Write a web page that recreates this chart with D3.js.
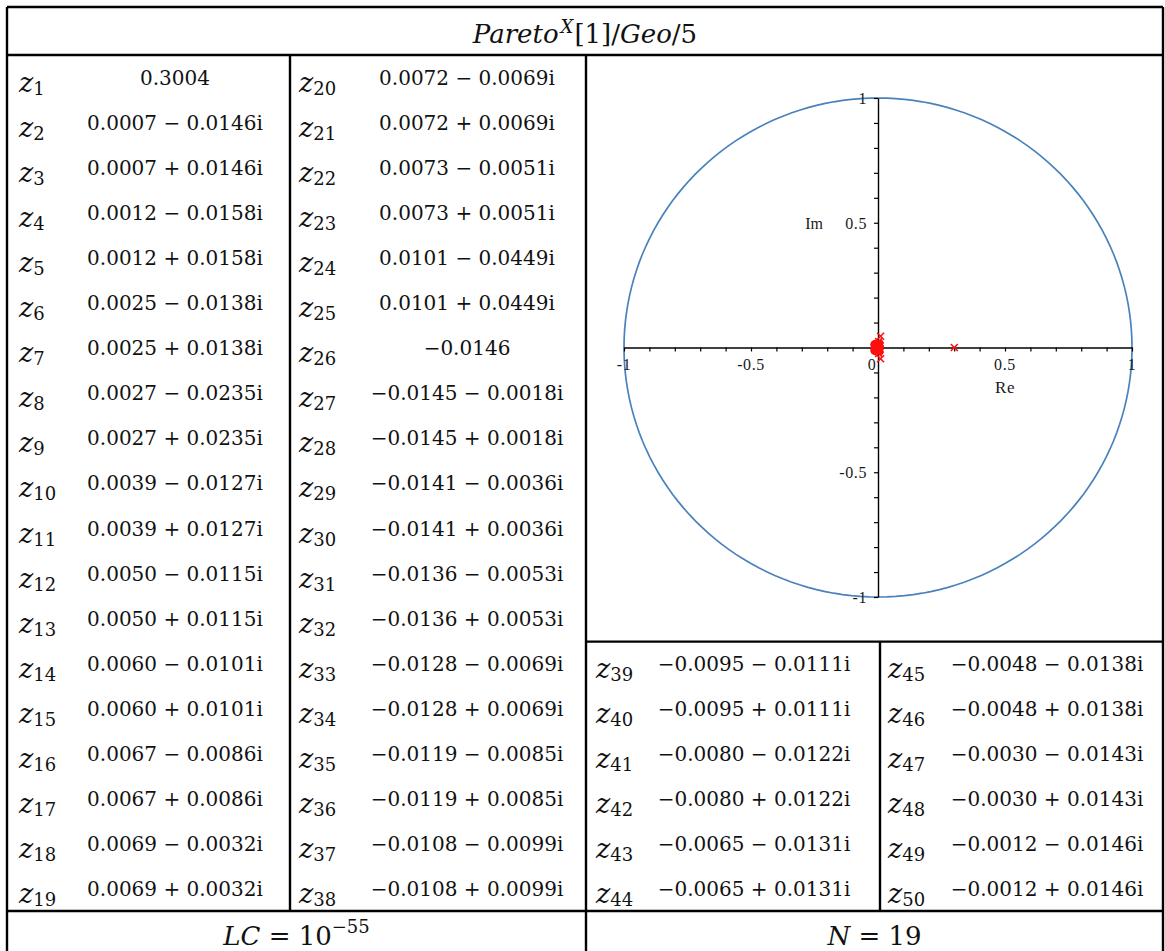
<!DOCTYPE html>
<html>
<head>
<meta charset="utf-8">
<script src="https://cdn.jsdelivr.net/npm/d3@7"></script>
<style>
  html, body { margin: 0; padding: 0; background: #fff; }
  svg { display: block; }
  .math { font-family: "DejaVu Serif", "Liberation Serif", serif; fill: #111; }
  .plotlbl { font-family: "Liberation Serif", "Times New Roman", serif; fill: #1a1a1a; }
</style>
</head>
<body>
<svg id="chart" width="1165" height="951"></svg>
<script>
// Zeros z1..z50 of the characteristic polynomial: real and imaginary parts
const zeroRe = [
  0.3004, 0.0007, 0.0007, 0.0012, 0.0012, 0.0025, 0.0025, 0.0027, 0.0027, 0.0039,
  0.0039, 0.0050, 0.0050, 0.0060, 0.0060, 0.0067, 0.0067, 0.0069, 0.0069, 0.0072,
  0.0072, 0.0073, 0.0073, 0.0101, 0.0101, -0.0146, -0.0145, -0.0145, -0.0141, -0.0141,
  -0.0136, -0.0136, -0.0128, -0.0128, -0.0119, -0.0119, -0.0108, -0.0108, -0.0095, -0.0095,
  -0.0080, -0.0080, -0.0065, -0.0065, -0.0048, -0.0048, -0.0030, -0.0030, -0.0012, -0.0012
];
const zeroIm = [
  0, -0.0146, 0.0146, -0.0158, 0.0158, -0.0138, 0.0138, -0.0235, 0.0235, -0.0127,
  0.0127, -0.0115, 0.0115, -0.0101, 0.0101, -0.0086, 0.0086, -0.0032, 0.0032, -0.0069,
  0.0069, -0.0051, 0.0051, -0.0449, 0.0449, 0, -0.0018, 0.0018, -0.0036, 0.0036,
  -0.0053, 0.0053, -0.0069, 0.0069, -0.0085, 0.0085, -0.0099, 0.0099, -0.0111, 0.0111,
  -0.0122, 0.0122, -0.0131, 0.0131, -0.0138, 0.0138, -0.0143, 0.0143, -0.0146, 0.0146
];
// Axis tick values and the labelled ones
const axisTicks = d3.range(-10, 11).map(d => d / 10);
const xTickLabels = { "-1": "-1", "-0.5": "-0.5", "0": "0", "0.5": "0.5", "1": "1" };
const yTickLabels = { "-1": "-1", "-0.5": "-0.5", "0.5": "0.5", "1": "1" };
// Footer values
const lcExponent = "−55";
const nValue = "19";

const svg = d3.select("#chart");

// ---- table geometry ----
const L = 7, R = 1163, T = 7;
const headBottom = 55;
const rowH = 45.05;
const nRows = 19;
const gridBottom = headBottom + nRows * rowH;
const colA = 290, colB = 586, colC = 880;
const plotBottom = headBottom + 13 * rowH + 1;

const fmt = v => (v < 0 ? "−" : "") + Math.abs(v).toFixed(4);
const zText = (re, im) => im === 0 ? fmt(re)
  : `${fmt(re)} ${im < 0 ? "−" : "+"} ${Math.abs(im).toFixed(4)}i`;

const zeros = zeroRe.map((re, i) => ({ k: i + 1, re, im: zeroIm[i] }));

// ---- grid lines ----
const lines = [
  [L, T, R, T], [L, T, L, 951], [R, T, R, 951],
  [L, headBottom, R, headBottom],
  [L, gridBottom, R, gridBottom],
  [colA, headBottom, colA, gridBottom],
  [colB, headBottom, colB, 951],
  [colB, plotBottom, R, plotBottom],
  [colC, plotBottom, colC, gridBottom]
];
svg.append("g").selectAll("line").data(lines).join("line")
  .attr("x1", d => d[0]).attr("y1", d => d[1])
  .attr("x2", d => d[2]).attr("y2", d => d[3])
  .attr("stroke", "#000").attr("stroke-width", 2.4);

// ---- title ----
const title = svg.append("text").attr("class", "math")
  .attr("x", (L + R) / 2).attr("y", 43).attr("text-anchor", "middle")
  .attr("font-size", 26);
title.append("tspan").attr("font-style", "italic").text("Pareto");
title.append("tspan").attr("font-style", "italic").attr("font-size", 18)
  .attr("dx", 2).attr("dy", -10).text("X");
title.append("tspan").attr("dx", 1).attr("dy", 10).text("[1]/");
title.append("tspan").attr("font-style", "italic").text("Geo");
title.append("tspan").text("/5");

// ---- zero table cells ----
const groups = [
  { from: 1, to: 19, row0: 0, lx: 19, cx: 175 },
  { from: 20, to: 38, row0: 0, lx: 299, cx: 467 },
  { from: 39, to: 44, row0: 13, lx: 596, cx: 754 },
  { from: 45, to: 50, row0: 13, lx: 888, cx: 1047 }
];
groups.forEach(g => {
  const items = zeros.filter(z => z.k >= g.from && z.k <= g.to);
  const cell = svg.append("g").selectAll("g").data(items).join("g")
    .attr("transform", (d, i) => `translate(0,${headBottom + (g.row0 + i) * rowH})`);
  const lab = cell.append("text").attr("class", "math").attr("x", g.lx).attr("y", 37)
    .attr("font-size", 27);
  lab.append("tspan").attr("font-style", "italic").text("z");
  lab.append("tspan").attr("font-size", 18).attr("dy", 3).text(d => d.k);
  cell.append("text").attr("class", "math").attr("x", g.cx).attr("y", 30)
    .attr("text-anchor", "middle").attr("font-size", 20)
    .text(d => zText(d.re, d.im));
});

// ---- footer ----
const lc = svg.append("text").attr("class", "math")
  .attr("x", (L + colB) / 2).attr("y", 945).attr("text-anchor", "middle").attr("font-size", 26);
lc.append("tspan").attr("font-style", "italic").text("LC");
lc.append("tspan").text(" = 10");
lc.append("tspan").attr("font-size", 18).attr("dy", -12).text(lcExponent);

const nt = svg.append("text").attr("class", "math")
  .attr("x", (colB + R) / 2).attr("y", 945).attr("text-anchor", "middle").attr("font-size", 26);
nt.append("tspan").attr("font-style", "italic").text("N");
nt.append("tspan").text(" = " + nValue);

// ---- complex plane plot ----
const x = d3.scaleLinear().domain([-1, 1]).range([624, 1132]);
const y = d3.scaleLinear().domain([-1, 1]).range([597, 98]);
const plot = svg.append("g");

// unit circle
const theta = d3.range(0, 361, 2).map(d => d * Math.PI / 180);
plot.append("path")
  .datum(theta)
  .attr("d", d3.line().x(t => x(Math.cos(t))).y(t => y(Math.sin(t))))
  .attr("fill", "none").attr("stroke", "#4a82bc").attr("stroke-width", 1.7);

// axes
const xAxis = d3.axisBottom(x).tickValues(axisTicks).tickSize(4).tickSizeOuter(0).tickFormat("");
const yAxis = d3.axisLeft(y).tickValues(axisTicks.filter(v => v !== 0)).tickSize(4).tickSizeOuter(0).tickFormat("");
const gx = plot.append("g").attr("transform", `translate(0,${y(0)})`).call(xAxis);
const gy = plot.append("g").attr("transform", `translate(${x(0)},0)`).call(yAxis);
[gx, gy].forEach(g => {
  g.select(".domain").attr("stroke", "#000").attr("stroke-width", 1.4);
  g.selectAll(".tick line").attr("stroke", "#000").attr("stroke-width", 1.2);
});

// x tick labels
const xLab = axisTicks.filter(v => xTickLabels[String(v)] !== undefined);
plot.append("g").selectAll("text").data(xLab).join("text")
  .attr("class", "plotlbl").attr("font-size", 16).attr("letter-spacing", 0.6)
  .attr("x", v => x(v) + (v === 0 ? -6 : 0)).attr("y", y(0) + 22)
  .attr("text-anchor", "middle")
  .text(v => xTickLabels[String(v)]);
plot.append("text").attr("class", "plotlbl").attr("font-size", 17).attr("letter-spacing", 0.6)
  .attr("x", x(0.5)).attr("y", y(0) + 45).attr("text-anchor", "middle").text("Re");

// y tick labels
const yLab = axisTicks.filter(v => yTickLabels[String(v)] !== undefined);
plot.append("g").selectAll("text").data(yLab).join("text")
  .attr("class", "plotlbl").attr("font-size", 16).attr("letter-spacing", 0.6)
  .attr("x", x(0) - 11).attr("y", v => y(v) + 6)
  .attr("text-anchor", "end")
  .text(v => yTickLabels[String(v)]);
plot.append("text").attr("class", "plotlbl").attr("font-size", 16)
  .attr("x", x(0) - 55).attr("y", y(0.5) + 6).attr("text-anchor", "end").text("Im");

// zeros as red crosses
const s = 3.5;
plot.append("g").selectAll("path").data(zeros).join("path")
  .attr("d", d => {
    const cx = x(d.re), cy = y(d.im);
    return `M${cx - s},${cy - s}L${cx + s},${cy + s}M${cx - s},${cy + s}L${cx + s},${cy - s}`;
  })
  .attr("stroke", "#ff1010").attr("stroke-width", 1.6).attr("fill", "none");
</script>
</body>
</html>
